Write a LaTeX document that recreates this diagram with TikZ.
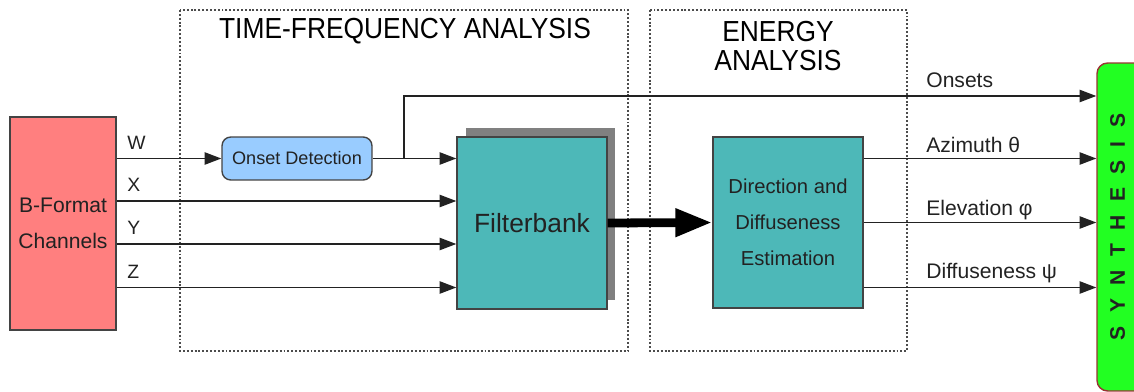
\documentclass[tikz,border=0pt]{standalone}
\usepackage{fontspec}
\setmainfont{Liberation Sans}
\usetikzlibrary{arrows.meta}
\usetikzlibrary{shadows}

\definecolor{bred}{HTML}{FF7F7F}
\definecolor{oblue}{HTML}{99CCFF}
\definecolor{fteal}{HTML}{4DB8B8}
\definecolor{sgreen}{HTML}{22FF22}
\definecolor{sedge}{HTML}{993333}
\definecolor{ink}{HTML}{222222}

\newcommand{\lsp}{\hspace{7.6pt}}

\tikzset{
    blk/.style={draw=ink!85, line width=0.8pt, text=ink, align=center, inner sep=0pt},
    sig/.style={draw=ink, line width=0.85pt, -{Triangle[length=9.5pt,width=7pt]}},
    big/.style={draw=black, line width=5pt, -{Triangle[length=21pt,width=15pt]}},
    grp/.style={draw=black!70, line width=0.8pt, dash pattern=on 1.1pt off 1.1pt},
    ttl/.style={text=black, align=center, inner sep=0pt, xscale=0.91,
        font=\fontsize{16.5}{17}\selectfont},
    chl/.style={text=ink, anchor=base west, inner sep=0pt, xshift=0.2cm, yshift=0.19cm,
        font=\fontsize{11}{13}\selectfont},
    outl/.style={text=ink, anchor=base west, inner sep=0pt,
        font=\fontsize{12}{14}\selectfont},
}

\begin{document}
\begin{tikzpicture}[x=0.02cm, y=-0.02cm]
    \useasboundingbox (0,0) rectangle (1134,392);

    % processing stages
    \draw[grp] (180,10) rectangle (628,351);
    \draw[grp] (650,10) rectangle (907,351);
    \node[ttl] (ttf) at (405,31) {TIME-FREQUENCY ANALYSIS};
    \node[ttl] (ten) at (778,46) {ENERGY\\ANALYSIS};

    % blocks
    \node[blk, fill=bred, minimum width=2.12cm, minimum height=4.26cm,
        font=\fontsize{12}{20.5}\selectfont] (bfmt) at (63,223.5) {B-Format\\Channels};
    \node[blk, fill=oblue, rounded corners=5pt, minimum width=3cm, minimum height=0.86cm,
        font=\fontsize{10.3}{12}\selectfont] (onset) at (297,158.5) {Onset Detection};
    \node[blk, fill=fteal, minimum width=3cm, minimum height=3.44cm,
        font=\fontsize{15}{18}\selectfont,
        drop shadow={shadow xshift=0.17cm, shadow yshift=0.18cm, fill=black!50, opacity=1}]
        (fbank) at (532,223) {Filterbank};
    \node[blk, fill=fteal, minimum width=3cm, minimum height=3.42cm,
        font=\fontsize{11.5}{20.5}\selectfont] (dde) at (788,222.5)
        {Direction and\\Diffuseness\\Estimation};
    \node[blk, draw=sedge, fill=sgreen, rounded corners=6pt, minimum width=1cm,
        minimum height=6.56cm, font=\bfseries\fontsize{12}{14}\selectfont] (synth) at (1122,227)
        {\rotatebox{90}{S\lsp Y\lsp N\lsp T\lsp H\lsp E\lsp S\lsp I\lsp S}\hspace{5pt}};

    % signal rows
    \coordinate (yOn) at (0,96);
    \coordinate (yX) at (0,201);
    \coordinate (yY) at (0,244);
    \coordinate (yZ) at (0,287.5);
    \coordinate (split) at (404,158.5);

    % inputs
    \draw[sig] (bfmt.east |- onset) node[chl] {W} -- (onset.west);
    \draw[sig] (bfmt.east |- yX) node[chl] {X} -- (fbank.west |- yX);
    \draw[sig] (bfmt.east |- yY) node[chl] {Y} -- (fbank.west |- yY);
    \draw[sig] (bfmt.east |- yZ) node[chl] {Z} -- (fbank.west |- yZ);

    % onsets
    \draw[sig] (onset.east) -- (fbank.west |- onset);
    \draw[sig] (split) |- (synth.west |- yOn);

    \draw[big] (fbank.east) -- (dde.west);

    % outputs
    \draw[sig] (dde.east |- onset) -- (synth.west |- onset);
    \draw[sig] (dde.east) -- (synth.west |- dde.east);
    \draw[sig] (dde.east |- yZ) -- (synth.west |- yZ);

    \node[outl] (lons) at (926,87) {Onsets};
    \node[outl] (laz) at (926,152) {Azimuth θ};
    \node[outl] (lel) at (926,215) {Elevation φ};
    \node[outl] (ldf) at (926,278) {Diffuseness ψ};
\end{tikzpicture}
\end{document}
